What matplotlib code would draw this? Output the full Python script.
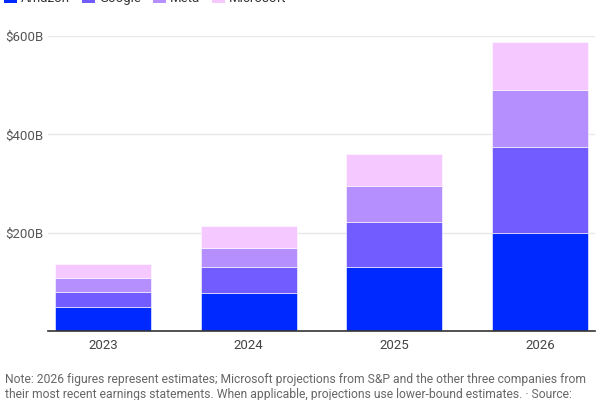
import matplotlib
matplotlib.use("Agg")
import matplotlib.pyplot as plt
from matplotlib.patches import Patch
import numpy as np

years = ["2023", "2024", "2025", "2026"]
companies = ["Amazon", "Google", "Meta", "Microsoft"]
amazon = [48, 78, 131, 200]
google = [32, 52.5, 91, 175]
meta = [28, 39, 72, 115]
microsoft = [29, 45, 65.5, 97]
colors = ["#0029ff", "#735cff", "#b68fff", "#f5c8ff"]
yticks = [200, 400, 600]
ytick_labels = ["$200B", "$400B", "$600B"]
note = ("Note: 2026 figures represent estimates; Microsoft projections from S&P and the other three companies from\n"
        "their most recent earnings statements. When applicable, projections use lower-bound estimates. \u00b7 Source:")

plt.rcParams['font.family'] = ['Roboto', 'DejaVu Sans']

fig = plt.figure(figsize=(6, 4), dpi=100)
ax = fig.add_axes([48/600, 1-331/400, (595-48)/600, (331-36)/400])

x = np.arange(len(years))
series = [amazon, google, meta, microsoft]
bottom = np.zeros(len(years))
for vals, c, name in zip(series, colors, companies):
    ax.bar(x, vals, bottom=bottom, width=0.66, color=c, label=name,
           edgecolor="white", linewidth=0.4, zorder=3)
    bottom += np.array(vals)

ax.set_xlim(-0.377, 3.377)
ax.set_ylim(0, 600)
ax.set_yticks(yticks)
ax.set_yticklabels(ytick_labels)
ax.set_xticks(x)
ax.set_xticklabels(years)
ax.tick_params(axis='y', length=0, pad=31, labelsize=9.5, labelcolor="#555555")
for lbl in ax.get_yticklabels():
    lbl.set_horizontalalignment('left')
ax.tick_params(axis='x', length=0, pad=6, labelsize=9.5, labelcolor="#444444")
ax.grid(axis='y', color="#e8e8e8", linewidth=1, zorder=0)
for s in ["top", "right", "left"]:
    ax.spines[s].set_visible(False)
ax.spines["bottom"].set_color("#333333")
ax.spines["bottom"].set_linewidth(1.2)
ax.spines["bottom"].set_zorder(4)

handles = [Patch(facecolor=c, edgecolor='none') for c in colors]
fig.legend(handles, companies, loc='center left', bbox_to_anchor=(0.0, 1.0 + 2/400),
           ncol=4, frameon=False, fontsize=9.5, handlelength=1.0, handleheight=1.0,
           handletextpad=0.3, columnspacing=0.9, borderaxespad=0, borderpad=0.3,
           labelcolor="#333333")

fig.text(5/600, 1-373/400, note, fontsize=8.7, color="#666666", va='top', ha='left',
         linespacing=1.2)

fig.savefig("out.png", dpi=100)
